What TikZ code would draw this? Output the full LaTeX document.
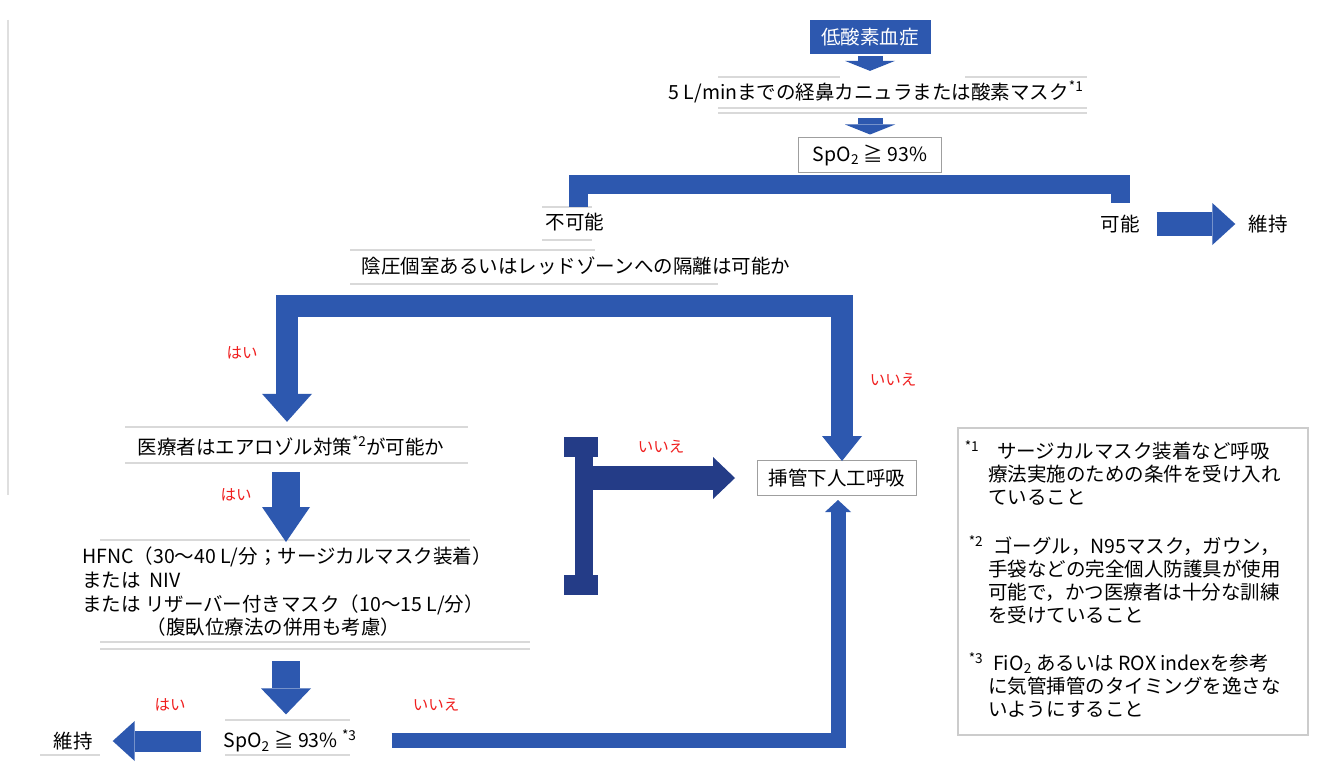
\documentclass[tikz,border=0pt]{standalone}
\usepackage{fontspec}
\setmainfont{Noto Sans CJK JP}
\usetikzlibrary{arrows.meta,calc}
\definecolor{ablue}{RGB}{45,88,175}
\definecolor{dblue}{RGB}{36,60,135}
\definecolor{lred}{RGB}{240,30,30}
\begin{document}
\begin{tikzpicture}[x=1pt,y=-1pt,
  txt/.style={font=\fontsize{19.5}{23.7}\selectfont, inner sep=2pt},
  note/.style={font=\fontsize{19.5}{23}\selectfont, inner sep=0pt, align=left},
  lab/.style={font=\fontsize{15.5}{18}\selectfont, text=lred, inner sep=1pt},
  boxed/.style={txt, draw=gray!75, line width=1pt, minimum height=35pt},
  rule/.style={draw=gray!30, line width=1.5pt},
  flow/.style={draw=ablue, line join=miter},
]
\useasboundingbox (0,0) rectangle (1335,781);
\fill[white] (0,0) rectangle (1335,781);
\draw[gray!25, line width=1.5pt] (8,20) -- (8,495);

% ---------- nodes ----------
\node[txt, fill=ablue, text=white, minimum width=121pt, minimum height=34pt] (hyp) at (870,37) {低酸素血症};
\node[txt] (o2) at (876,92) {5 L/minまでの経鼻カニュラまたは酸素マスク\textsuperscript{*1}};
\node[boxed, minimum width=143pt] (s1) at (870,155) {SpO\textsubscript{2} ≧ 93\%};
\node[txt] (fuka) at (575,222) {不可能};
\node[txt] (kano) at (1120,224) {可能};
\node[txt] (iji1) at (1268,224) {維持};
\node[txt] (neg) at (576,266) {陰圧個室あるいはレッドゾーンへの隔離は可能か};
\node[txt] (aer) at (291,446) {医療者はエアロゾル対策\textsuperscript{*2}が可能か};
\node[boxed, minimum width=159pt] (intub) at (837,478) {挿管下人工呼吸};
\node[txt, anchor=north west, align=left] (hfnc) at (80,545)
  {HFNC（30～40 L/分；サージカルマスク装着）\\または\ \ NIV\\または リザーバー付きマスク（10～15 L/分）\\\hspace*{3.3em}（腹臥位療法の併用も考慮）};
\node[txt] (s2) at (290,741) {SpO\textsubscript{2} ≧ 93\% \textsuperscript{*3}};
\node[txt] (iji2) at (73,741) {維持};

% ---------- labels ----------
\node[lab] (l1) at (242,353) {はい};
\node[lab] (l2) at (893,380) {いいえ};
\node[lab] (l3) at (236,495) {はい};
\node[lab] (l4) at (661,447) {いいえ};
\node[lab] (l5) at (170,705) {はい};
\node[lab] (l6) at (436,705) {いいえ};

% ---------- faint rules ----------
\draw[rule] (718,77) -- (840,77) (965,77) -- (1087,77);
\draw[rule] (718,108) -- (1087,108) (718,113) -- (1087,113);
\draw[rule] (542,207) -- (592,207) (542,240) -- (592,240);
\draw[rule] (350,250) -- (595,250) (350,284) -- (718,284);
\draw[rule] (125,427) -- (468,427) (125,463) -- (468,463);
\draw[rule] (100,540) -- (470,540) (100,642) -- (530,642) (100,649) -- (530,649);
\draw[rule] (225,720) -- (350,720) (225,755) -- (350,755);
\draw[rule] (40,755) -- (100,755);

% ---------- block arrows ----------
\draw[flow, line width=25pt, -{Triangle[length=10pt,width=50pt,line width=0pt]}]
  ($(hyp.south)+(0,2)$) -- ($(o2.north)+(-6,-8)$);
\draw[flow, line width=25pt, -{Triangle[length=10pt,width=50pt,line width=0pt]}]
  ($(o2.south)+(-6,13)$) -- ($(s1.north)+(0,-2.5)$);

% bracket under SpO2
\draw[flow, line width=19pt]
  ($(fuka.north)+(3,-4)$) |- ($(s1.south)+(0,11.5)$) -| ($(kano.north)+(0,-10)$);
\draw[flow, line width=24pt, -{Triangle[length=23pt,width=42pt,line width=0pt]}]
  ($(kano.east)+(15,0)$) -- ($(iji1.west)+(-11,0)$);

% big bracket to aerosol / intubation
\draw[flow, line width=22pt,
      {Triangle[length=28pt,width=50pt,line width=0pt]}-{Triangle[length=25pt,width=40pt,line width=0pt]}]
  ($(aer.north)+(-4,-12)$) |- ($(neg.south)+(0,29)$) -| ($(intub.north)+(5,1)$);

\coordinate (a3s) at ($(aer.south)+(-5,14)$);
\draw[flow, line width=28pt, -{Triangle[length=35pt,width=48pt,line width=0pt]}]
  (a3s) -- ($(a3s |- hfnc.north)+(0,-3)$);
\draw[flow, line width=28pt, -{Triangle[length=26pt,width=50pt,line width=0pt]}]
  ($(hfnc.south -| s2.north)+(-4,22)$) -- ($(s2.north)+(-4,-13)$);
\draw[flow, line width=21pt, -{Triangle[length=22pt,width=40pt,line width=0pt]}]
  ($(s2.west)+(-20,0)$) -- ($(iji2.east)+(18,0)$);
\draw[flow, line width=15pt, -{Triangle[length=12pt,width=26pt,line width=0pt]}]
  ($(s2.east)+(33,-1)$) -| ($(intub.south)+(1,4)$);

% middle bracket
\fill[dblue] (575,437) rectangle (593,595);
\fill[dblue] (564,437) rectangle (598,457);
\fill[dblue] (564,575) rectangle (598,595);
\coordinate (mb) at (593,478);
\draw[draw=dblue, line width=24pt, -{Triangle[length=22pt,width=42pt,line width=0pt]}]
  (mb) -- ($(intub.west)+(-22,0)$);

% ---------- footnotes ----------
\draw[gray!40, line width=1.2pt] (958,428) rectangle (1308,735);
\node[note, anchor=north west] (n1) at (988,440)
  {\llap{\textsuperscript{*1}\hspace{9pt}}\hspace*{9pt}サージカルマスク装着など呼吸\\療法実施のための条件を受け入れ\\ていること};
\node[note, anchor=north west] (n2) at (988,535)
  {\llap{\textsuperscript{*2}\hspace{5pt}}\hspace*{5pt}ゴーグル，N95マスク，ガウン，\\手袋などの完全個人防護具が使用\\可能で，かつ医療者は十分な訓練\\を受けていること};
\node[note, anchor=north west] (n3) at (988,652)
  {\llap{\textsuperscript{*3}\hspace{5pt}}\hspace*{5pt}FiO\textsubscript{2} あるいは ROX indexを参考\\に気管挿管のタイミングを逸さな\\いようにすること};
\end{tikzpicture}
\end{document}
